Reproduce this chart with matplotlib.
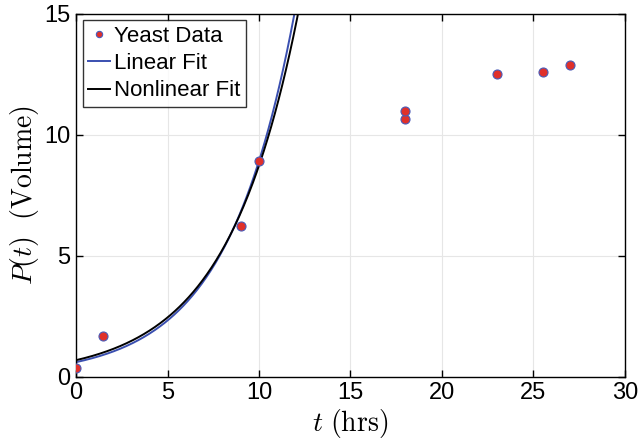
import numpy as np
import matplotlib
matplotlib.use("Agg")
import matplotlib.pyplot as plt

plt.rcParams["font.family"] = ["Liberation Sans", "DejaVu Sans"]
plt.rcParams["mathtext.fontset"] = "cm"

# yeast data
t_data = [0, 1.5, 9, 10, 18, 18, 23, 25.5, 27]
p_data = [0.37, 1.68, 6.22, 8.9, 10.66, 11.0, 12.5, 12.6, 12.9]

# exponential fits P = a * exp(b t)
lin_a, lin_b = 0.608, 0.2686
nl_a, nl_b = 0.69, 0.2538

t = np.linspace(0, 30, 600)

fig = plt.figure(figsize=(6.39, 4.46), dpi=100)
ax = fig.add_axes([0.119, 0.155, 0.859, 0.814])

ax.plot(t_data, p_data, "o", ls="none", ms=6.5, mfc="#e0302a", mec="#4a5bb8",
        mew=0.8, label="Yeast Data", zorder=3)
ax.plot(t, lin_a * np.exp(lin_b * t), color="#3a4fb0", lw=1.4, label="Linear Fit")
ax.plot(t, nl_a * np.exp(nl_b * t), color="black", lw=1.4, label="Nonlinear Fit")

ax.set_xlim(0, 30)
ax.set_ylim(0, 15)
ax.set_xticks([0, 5, 10, 15, 20, 25, 30])
ax.set_yticks([0, 5, 10, 15])
ax.tick_params(direction="in", top=True, right=True, labelsize=17, length=5,
               width=1, pad=4)
ax.grid(color="#e6e6e6", lw=0.8)
ax.set_axisbelow(True)
for s in ax.spines.values():
    s.set_linewidth(1.0)

ax.set_xlabel(r"$t\ \mathrm{(hrs)}$", fontsize=20, labelpad=2)
ax.set_ylabel(r"$P(t)\ \ \mathrm{(Volume)}$", fontsize=20, labelpad=2)

leg = ax.legend(loc="upper left", fontsize=16, frameon=True, fancybox=False,
                edgecolor="black", handlelength=1.0, handletextpad=0.15,
                borderpad=0.25, labelspacing=0.28, borderaxespad=0.3,
                numpoints=1, markerscale=0.7)
leg.get_frame().set_linewidth(1.0)

fig.savefig("out.png", dpi=100)
